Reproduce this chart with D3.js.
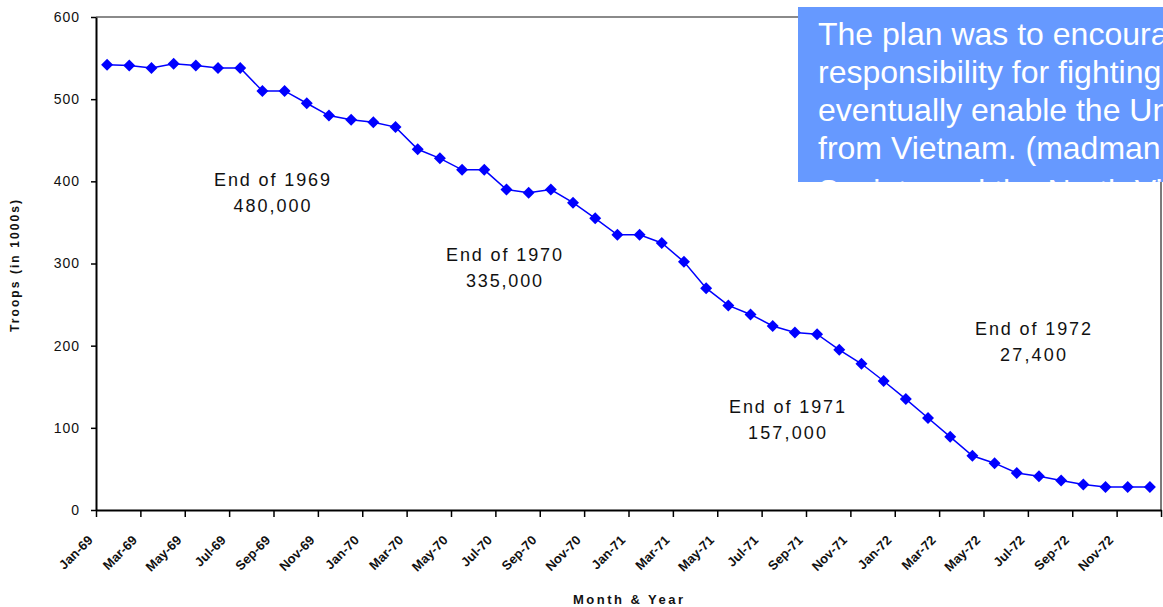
<!DOCTYPE html>
<html>
<head>
<meta charset="utf-8">
<script src="https://cdn.jsdelivr.net/npm/d3@7"></script>
<style>
  html, body { margin: 0; padding: 0; background: #fff; overflow: hidden; }
  svg { display: block; font-family: "Liberation Sans", Arial, sans-serif; }
</style>
</head>
<body>
<script>
// ---- data ----
const months = [
  "Jan-69","Feb-69","Mar-69","Apr-69","May-69","Jun-69","Jul-69","Aug-69","Sep-69","Oct-69","Nov-69","Dec-69",
  "Jan-70","Feb-70","Mar-70","Apr-70","May-70","Jun-70","Jul-70","Aug-70","Sep-70","Oct-70","Nov-70","Dec-70",
  "Jan-71","Feb-71","Mar-71","Apr-71","May-71","Jun-71","Jul-71","Aug-71","Sep-71","Oct-71","Nov-71","Dec-71",
  "Jan-72","Feb-72","Mar-72","Apr-72","May-72","Jun-72","Jul-72","Aug-72","Sep-72","Oct-72","Nov-72","Dec-72"
];
const troops = [
  542, 541, 538, 543, 541, 538, 538, 510, 510, 495, 480, 475,
  472, 466, 439, 428, 414, 414, 390, 386, 390, 374, 355, 335,
  335, 325, 302, 270, 249, 238, 224, 216, 214, 195, 178, 157,
  135, 112, 89, 66, 57, 45, 41, 36, 31, 28, 28, 28
];
const tickLabels = [
  "Jan-69","Mar-69","May-69","Jul-69","Sep-69","Nov-69",
  "Jan-70","Mar-70","May-70","Jul-70","Sep-70","Nov-70",
  "Jan-71","Mar-71","May-71","Jul-71","Sep-71","Nov-71",
  "Jan-72","Mar-72","May-72","Jul-72","Sep-72","Nov-72"
];
const yTicks = [0, 100, 200, 300, 400, 500, 600];
const annotationTitles = ["End of 1969", "End of 1970", "End of 1971", "End of 1972"];
const annotationValues = ["480,000", "335,000", "157,000", "27,400"];
const yTitle = "Troops (in 1000s)";
const xTitle = "Month & Year";
const noteLines = [
  "The plan was to encourage South Vietnam to take",
  "responsibility for fighting the war and",
  "eventually enable the United States to withdraw",
  "from Vietnam. (madman theory)",
  "Soviets and the North Vietnamese"
];

// ---- layout ----
const W = 1163, H = 607;
const plotLeft = 96, plotRight = 1161, plotTop = 17, plotBottom = 510;

const svg = d3.select("body").append("svg").attr("width", W).attr("height", H);

const x = d3.scaleLinear().domain([0, months.length]).range([plotLeft, plotRight]);
const y = d3.scaleLinear().domain([0, 600]).range([plotBottom, plotTop]);

// plot border (top & right)
svg.append("line").attr("x1", plotLeft).attr("x2", plotRight).attr("y1", plotTop).attr("y2", plotTop)
  .attr("stroke", "#8a8a8a").attr("stroke-width", 2);
svg.append("line").attr("x1", plotRight).attr("x2", plotRight).attr("y1", plotTop).attr("y2", plotBottom)
  .attr("stroke", "#7a7a7a").attr("stroke-width", 2);

// y axis
const gy = svg.append("g").attr("transform", `translate(${plotLeft},0)`)
  .call(d3.axisLeft(y).tickValues(yTicks).tickSize(5).tickSizeOuter(0).tickPadding(11));
gy.select(".domain").attr("stroke", "#000").attr("stroke-width", 2);
gy.selectAll(".tick line").attr("stroke", "#000").attr("stroke-width", 1.5);
gy.selectAll(".tick text").attr("font-size", 14).attr("fill", "#111")
  .attr("font-family", "'Liberation Sans', Arial, sans-serif").style("letter-spacing", "1px");

// x axis
const gx = svg.append("g").attr("transform", `translate(0,${plotBottom})`)
  .call(d3.axisBottom(x).tickValues(d3.range(0, months.length + 1, 2)).tickSize(7).tickSizeOuter(0)
    .tickFormat(i => tickLabels[i / 2] || ""));
gx.select(".domain").attr("stroke", "#000").attr("stroke-width", 2);
gx.selectAll(".tick line").attr("stroke", "#000").attr("stroke-width", 1.5);
gx.selectAll(".tick text")
  .attr("font-size", 13).attr("font-weight", "bold").attr("fill", "#111")
  .attr("font-family", "'Liberation Sans', Arial, sans-serif")
  .attr("x", 0).attr("y", 0).attr("dy", 0)
  .attr("text-anchor", "end")
  .attr("transform", "translate(-3,31) rotate(-45)");

// axis titles
svg.append("text").text(yTitle)
  .attr("transform", "translate(19,266) rotate(-90)")
  .attr("text-anchor", "middle").attr("font-size", 12).attr("font-weight", "bold").attr("fill", "#111")
  .attr("textLength", 132).attr("lengthAdjust", "spacing");
svg.append("text").text(xTitle)
  .attr("x", 628).attr("y", 604)
  .attr("text-anchor", "middle").attr("font-size", 13).attr("font-weight", "bold").attr("fill", "#111")
  .attr("textLength", 110).attr("lengthAdjust", "spacing");

// line + markers
const line = d3.line().x((d, i) => x(i + 0.5)).y(d => y(d));
svg.append("path").datum(troops).attr("d", line)
  .attr("fill", "none").attr("stroke", "#0000ff").attr("stroke-width", 1.5);
const sym = d3.symbol().type(d3.symbolSquare).size(72);
svg.append("g").selectAll("path").data(troops).join("path")
  .attr("d", sym)
  .attr("transform", (d, i) => `translate(${x(i + 0.5)},${y(d)}) rotate(45)`)
  .attr("fill", "#0000ff");

// annotations
const annPos = [[272, 186], [504, 261], [787, 413], [1033, 335]];
const valLen = [77, 76, 78, 66];
annotationTitles.forEach((t, k) => {
  svg.append("text").text(t).attr("x", annPos[k][0]).attr("y", annPos[k][1])
    .attr("text-anchor", "middle").attr("font-size", 18).attr("fill", "#111")
    .attr("textLength", 116).attr("lengthAdjust", "spacing");
  svg.append("text").text(annotationValues[k]).attr("x", annPos[k][0]).attr("y", annPos[k][1] + 26)
    .attr("text-anchor", "middle").attr("font-size", 18).attr("fill", "#111")
    .attr("textLength", valLen[k]).attr("lengthAdjust", "spacing");
});

// note box
const defs = svg.append("defs");
defs.append("clipPath").attr("id", "noteClip")
  .append("rect").attr("x", 798).attr("y", 7).attr("width", 400).attr("height", 175);
const note = svg.append("g").attr("clip-path", "url(#noteClip)");
note.append("rect").attr("x", 798).attr("y", 7).attr("width", 400).attr("height", 175).attr("fill", "#6699ff");
note.selectAll("text").data(noteLines).join("text")
  .text(d => d)
  .attr("x", 818).attr("y", (d, i) => i < 4 ? 45 + i * 38 : 202)
  .attr("font-size", 32).attr("fill", "#fff");
</script>
</body>
</html>
